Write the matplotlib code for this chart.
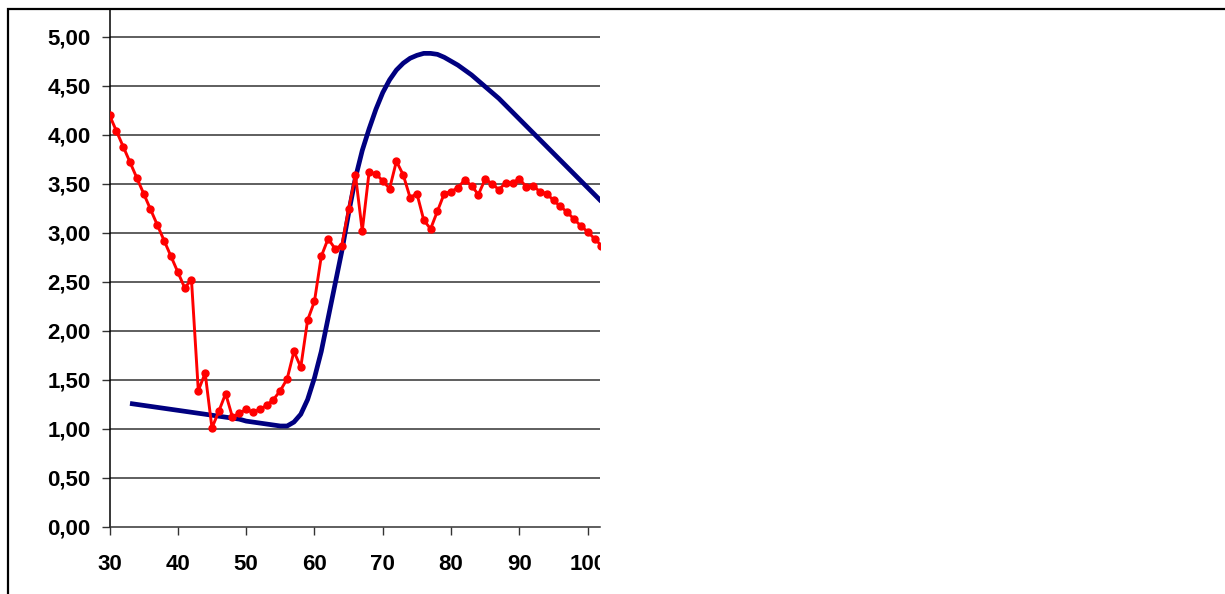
import matplotlib
matplotlib.use("Agg")
import matplotlib.pyplot as plt
from matplotlib.patches import Rectangle
from matplotlib.transforms import Bbox, TransformedBbox

# Observed series, one value per year of age
ages_obs = list(range(30, 103))
observed = [4.20, 4.04, 3.88, 3.72, 3.56, 3.40, 3.24, 3.08, 2.92, 2.76,
            2.60, 2.44, 2.52, 1.39, 1.57, 1.01, 1.18, 1.36, 1.12, 1.16,
            1.20, 1.17, 1.20, 1.24, 1.30, 1.39, 1.51, 1.79, 1.63, 2.11,
            2.30, 2.76, 2.94, 2.84, 2.87, 3.24, 3.59, 3.02, 3.62, 3.60,
            3.53, 3.45, 3.73, 3.59, 3.36, 3.40, 3.13, 3.04, 3.22, 3.40,
            3.42, 3.46, 3.54, 3.48, 3.39, 3.55, 3.50, 3.44, 3.51, 3.51,
            3.55, 3.47, 3.48, 3.42, 3.40, 3.33, 3.27, 3.21, 3.14, 3.07,
            3.01, 2.94, 2.87]

# Fitted curve
ages_fit = list(range(33, 103))
fitted = [1.26, 1.25, 1.24, 1.23, 1.22, 1.21, 1.20, 1.19, 1.18, 1.17,
          1.16, 1.15, 1.14, 1.13, 1.12, 1.11, 1.10, 1.08, 1.07, 1.06,
          1.05, 1.04, 1.03, 1.03, 1.07, 1.15, 1.30, 1.52, 1.79, 2.13,
          2.47, 2.81, 3.20, 3.56, 3.84, 4.06, 4.26, 4.43, 4.56, 4.66,
          4.73, 4.78, 4.81, 4.83, 4.83, 4.82, 4.79, 4.75, 4.71, 4.66,
          4.61, 4.55, 4.49, 4.43, 4.37, 4.30, 4.23, 4.16, 4.09, 4.02,
          3.95, 3.88, 3.81, 3.74, 3.67, 3.60, 3.53, 3.46, 3.39, 3.32]

x_ticks = [30, 40, 50, 60, 70, 80, 90, 100]
y_ticks = [0.0, 0.5, 1.0, 1.5, 2.0, 2.5, 3.0, 3.5, 4.0, 4.5, 5.0]

W, H = 1225, 594
fig = plt.figure(figsize=(W / 100, H / 100), dpi=100)
fig.patch.set_facecolor("white")

# plot area in pixels
left, right, bottom, top = 109.5, 600, 527, 9
ax = fig.add_axes([left / W, (H - bottom) / H, (right - left) / W, (bottom - top) / H])

ymax = (bottom - top) / (bottom - 36.7) * 5.0
ax.set_xlim(30, 30 + (right - left) / ((587.7 - 109.5) / 70))
ax.set_ylim(0, ymax)

for y in y_ticks[1:]:
    ax.axhline(y, color="#333333", lw=1.1, zorder=1)

ax.plot(ages_fit, fitted, color="#000080", lw=3.4, zorder=3,
        solid_capstyle="butt", solid_joinstyle="round")
ax.plot(ages_obs, observed, color="#FF0000", lw=2.1, marker="o",
        markersize=5, zorder=4)

for s in ("top", "right"):
    ax.spines[s].set_visible(False)
ax.spines["left"].set_color("black")
ax.spines["left"].set_linewidth(1.1)
ax.spines["bottom"].set_color("#333333")
ax.spines["bottom"].set_linewidth(1.1)

ax.set_xticks(x_ticks)
ax.set_xticklabels([str(v) for v in x_ticks])
ax.set_yticks(y_ticks)
ax.set_yticklabels([f"{v:.2f}".replace(".", ",") for v in y_ticks])

ax.tick_params(axis="both", direction="out", length=5.5, width=1, color="#333333",
               labelsize=16)
ax.tick_params(axis="y", pad=8)
ax.tick_params(axis="x", pad=14)
for lab in ax.get_xticklabels() + ax.get_yticklabels():
    lab.set_fontfamily(["Liberation Sans", "DejaVu Sans"])
    lab.set_fontweight("bold")

# tick labels are cut at the right end of the plot area
clip = TransformedBbox(Bbox.from_extents(-1, -1, 1, 1), ax.transAxes)
for lab in ax.get_xticklabels():
    lab.set_clip_box(clip)
    lab.set_clip_on(True)

# outer frame of the chart
fig.patches.append(Rectangle((7.7 / W, -0.2), 1.2, 1.2 - 9 / H,
                             transform=fig.transFigure, fill=False,
                             edgecolor="black", lw=1.6))

fig.savefig("out.png", dpi=100, facecolor="white")
